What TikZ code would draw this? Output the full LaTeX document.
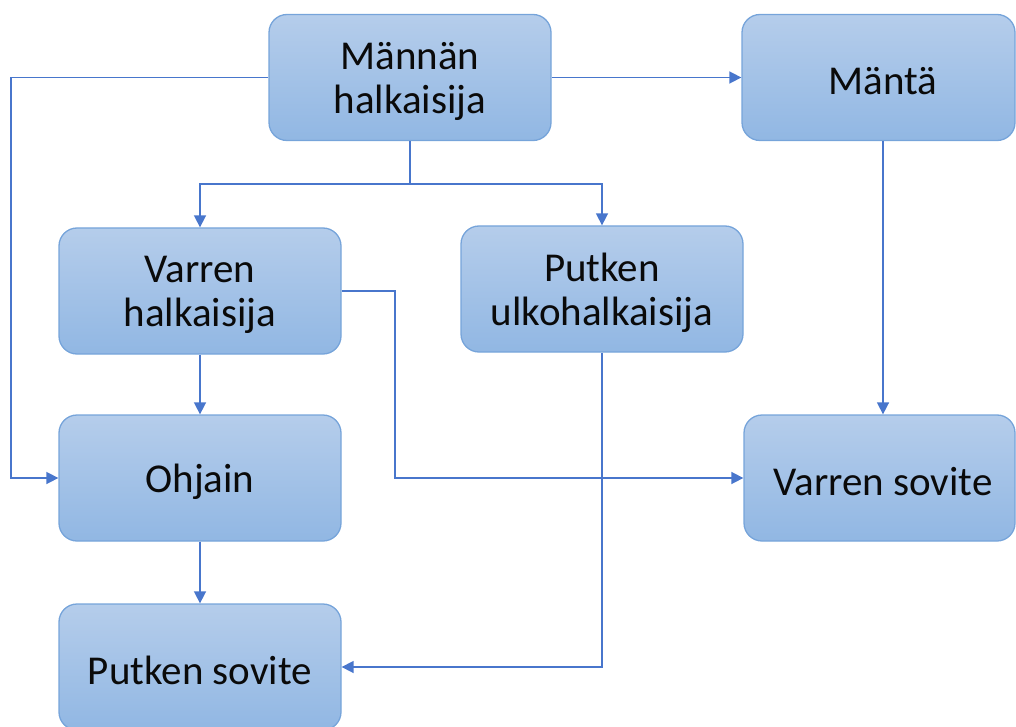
\documentclass[tikz,border=0pt]{standalone}
\usepackage{fontspec}
\setmainfont{Carlito}
\usetikzlibrary{arrows.meta}
\definecolor{boxtop}{RGB}{181,205,235}
\definecolor{boxbot}{RGB}{145,183,227}
\definecolor{boxline}{RGB}{118,164,218}
\definecolor{conn}{RGB}{72,118,204}
\definecolor{txt}{RGB}{10,10,10}
\tikzset{
  box/.style={draw=boxline, line width=1.3pt, rounded corners=18pt,
    top color=boxtop, bottom color=boxbot, minimum width=282pt, minimum height=126pt,
    inner sep=0pt},
  lbl/.style={inner sep=0pt, align=center, text=txt, yshift=-3.5pt,
    font=\fontsize{41}{44}\selectfont},
  arr/.style={draw=conn, line width=1.6pt, -{Triangle[length=12pt,width=12pt]}},
  ln/.style={draw=conn, line width=1.6pt}
}
\begin{document}
\begin{tikzpicture}[x=1pt,y=1pt]
\useasboundingbox (0,0) rectangle (1016,-727);
\node[box, label={[lbl]center:Männän\\halkaisija}] (mh) at (410,-77.5) {};
\node[box, minimum width=273pt, label={[lbl, xshift=4.5pt]center:Mäntä}] (manta) at (878.5,-77.5) {};
\node[box, label={[lbl]center:Varren\\halkaisija}] (vh) at (200,-291) {};
\node[box, label={[lbl]center:Putken\\ulkohalkaisija}] (pu) at (602,-289) {};
\node[box, label={[lbl]center:Ohjain}] (oh) at (200,-478) {};
\node[box, minimum width=271pt, label={[lbl, xshift=3.5pt]center:Varren sovite}] (vs) at (879.5,-478) {};
\node[box, label={[lbl]center:Putken sovite}] (ps) at (200,-667) {};
\coordinate (br) at (410,-184);
\coordinate (lx) at (11,-77.5);
\coordinate (vx) at (395,-291);
\coordinate (mx) at (883,0);
\draw[arr] (mh.west) -- (lx) |- (oh.west);
\draw[arr] (mh.east) -- (manta.west);
\draw[ln] (mh.south) -- (br);
\draw[arr] (br) -| (vh.north);
\draw[arr] (br) -| (pu.north);
\draw[arr] (vh.east) -- (vx) |- (vs.west);
\draw[arr] (vh.south) -- (oh.north);
\draw[arr] (pu.south) |- (ps.east);
\draw[arr] (manta.south -| mx) -- (vs.north -| mx);
\draw[arr] (oh.south) -- (ps.north);
\end{tikzpicture}
\end{document}
